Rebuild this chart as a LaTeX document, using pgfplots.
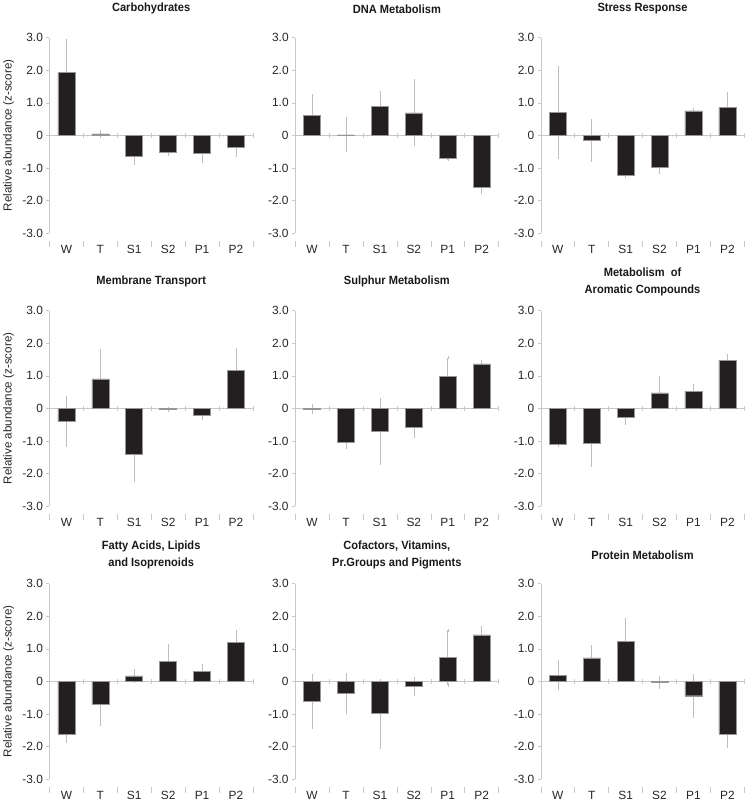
\documentclass[border=0pt]{standalone}
\usepackage{pgfplots}
\pgfplotsset{compat=1.18}
\usepackage{pgfplotstable}
\usepgfplotslibrary{groupplots}
\usepackage{fontspec}
\setmainfont{Liberation Sans}
\newfontfamily\titlefont[FakeStretch=0.93]{Liberation Sans}

\definecolor{barfill}{RGB}{35,31,32}
\definecolor{baredge}{RGB}{150,150,150}
\definecolor{axisgray}{RGB}{200,200,200}
\definecolor{errgray}{RGB}{190,190,190}

% z-scores and errors per category
\pgfplotstableread{
idx cat carb carbE dna dnaE str strE mem memE sul sulE aro aroE fat fatE cof cofE pro proE
0 W   1.93 0.99  0.62 0.59  0.70 1.38 -0.40 0.74 -0.02 0.10 -1.11 0.04 -1.62 0.23 -0.61 0.79  0.19 0.42
1 T   0.05 0.08  0.02 0.49 -0.16 0.61  0.91 0.86 -1.05 0.14 -1.06 0.69 -0.70 0.62 -0.37 0.57  0.72 0.35
2 S1 -0.65 0.20  0.89 0.42 -1.23 0.04 -1.42 0.79 -0.71 0.97 -0.27 0.20  0.17 0.16 -0.99 1.03  1.22 0.67
3 S2 -0.52 0.05  0.69 0.98 -0.99 0.13 -0.02 0.03 -0.57 0.29  0.48 0.46  0.62 0.47 -0.15 0.25 -0.04 0.15
4 P1 -0.55 0.25 -0.69 0.05  0.75 0.03 -0.20 0.12  0.99 0.56  0.52 0.17  0.31 0.18  0.73 0.84 -0.44 0.62
5 P2 -0.35 0.27 -1.59 0.17  0.85 0.42  1.16 0.63  1.37 0.08  1.48 0.13  1.20 0.33  1.43 0.22 -1.61 0.37
}\data

\newcommand{\panel}[2]{%
  \addplot[axisgray, line width=0.6pt, forget plot] coordinates {(-0.5,0) (5.5,0)};
  \pgfplotsinvokeforeach{-0.5,0.5,1.5,2.5,3.5,4.5,5.5}{%
    \draw[axisgray, line width=0.5pt] (axis cs:##1,-0.07) -- (axis cs:##1,0.07);}
  \addplot[draw=none, mark=none, forget plot,
    error bars/.cd, y dir=both, y explicit,
    error bar style={draw=errgray, line width=0.5pt},
    error mark options={draw=errgray, mark size=1.6pt}]
    table[x=idx, y=#1, y error=#2] {\data};
  \addplot[ybar, bar width=0.5, bar shift=0pt, fill=barfill, draw=baredge,
    line width=0.5pt] table[x=idx, y=#1] {\data};
}

\begin{document}
\begin{tikzpicture}
\begin{groupplot}[
  group style={group size=3 by 3, horizontal sep=42.5pt, vertical sep=78pt},
  scale only axis,
  width=205pt, height=197pt,
  xmin=-0.5, xmax=5.5, ymin=-3, ymax=3,
  axis x line*=bottom, axis y line*=left,
  x axis line style={draw=none},
  y axis line style={axisgray, line width=0.6pt},
  xtick={0,...,5},
  xticklabels={W,T,S1,S2,P1,P2},
  minor xtick={-0.5,0.5,...,5.5},
  major x tick style={draw=none},
  minor x tick style={draw=axisgray, line width=0.5pt, yshift=-8pt},
  minor tick length=6pt,
  ytick={-3,...,3},
  yticklabels={-3.0,-2.0,-1.0,0,1.0,2.0,3.0},
  y tick style={axisgray, line width=0.5pt},
  major tick length=3pt,
  tick align=outside,
  tick label style={font=\fontsize{12}{14}\selectfont, text=black!85},
  xticklabel style={yshift=-6pt},
  title style={font=\titlefont\bfseries\fontsize{12}{17}\selectfont,
    at={(0.5,1)}, anchor=center, yshift=23pt, align=center, text=black!90},
  y label style={at={(axis description cs:-0.2,0.5)}, anchor=center,
    font=\fontsize{11.7}{14}\selectfont, text=black!85},
  clip=false,
]
\nextgroupplot[title={Carbohydrates}, ylabel={Relative abundance (z-score)}]
\panel{carb}{carbE}
\nextgroupplot[title={DNA Metabolism}]
\panel{dna}{dnaE}
\nextgroupplot[title={Stress Response}]
\panel{str}{strE}
\nextgroupplot[title={Membrane Transport}, ylabel={Relative abundance (z-score)}]
\panel{mem}{memE}
\nextgroupplot[title={Sulphur Metabolism}]
\panel{sul}{sulE}
\nextgroupplot[title={Metabolism~ of\\Aromatic Compounds}]
\panel{aro}{aroE}
\nextgroupplot[title={Fatty Acids, Lipids\\and Isoprenoids}, ylabel={Relative abundance (z-score)}]
\panel{fat}{fatE}
\nextgroupplot[title={Cofactors, Vitamins,\\Pr.Groups and Pigments}]
\panel{cof}{cofE}
\nextgroupplot[title={Protein Metabolism}]
\panel{pro}{proE}
\end{groupplot}
\path (group c1r1.north west) ++(-48pt,32pt) rectangle ++(750pt,-806pt);
\end{tikzpicture}
\end{document}
